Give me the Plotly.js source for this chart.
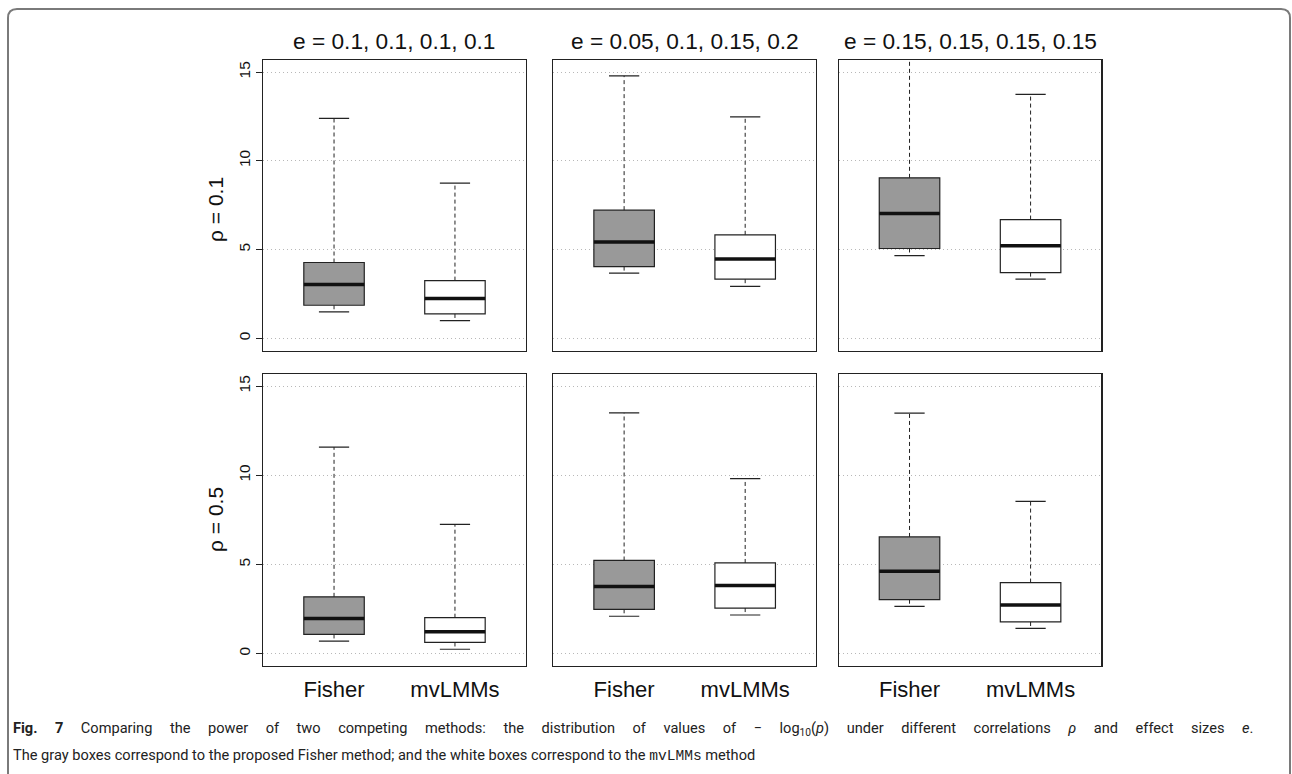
<!DOCTYPE html>
<html>
<head>
<meta charset="utf-8">
<script src="https://cdn.plot.ly/plotly-3.0.1.min.js"></script>
<style>html,body{margin:0;padding:0;background:#fff;}#chart{width:1292px;height:774px;}</style>
</head>
<body>
<div id="chart"></div>
<script>
// ---- data ----
const methods = ['Fisher', 'mvLMMs'];
const effectLabels = ['e = 0.1, 0.1, 0.1, 0.1', 'e = 0.05, 0.1, 0.15, 0.2', 'e = 0.15, 0.15, 0.15, 0.15'];
const rhoLabels = ['\u03c1 = 0.1', '\u03c1 = 0.5'];
const yTicks = [0, 5, 10, 15];
// panel order: row rho=0.1 (3 effect settings), then row rho=0.5
const fisherLower  = [1.49, 3.67, 4.66, 0.69, 2.09, 2.65];
const fisherQ1     = [1.86, 4.04, 5.06, 1.07, 2.48, 3.02];
const fisherMedian = [3.03, 5.43, 7.03, 1.97, 3.76, 4.62];
const fisherQ3     = [4.27, 7.22, 9.04, 3.18, 5.22, 6.54];
const fisherUpper  = [12.39, 14.79, 16.8, 11.58, 13.50, 13.48];
const mvLower  = [0.99, 2.93, 3.33, 0.24, 2.16, 1.41];
const mvQ1     = [1.37, 3.33, 3.70, 0.62, 2.55, 1.77];
const mvMedian = [2.24, 4.46, 5.21, 1.22, 3.81, 2.72];
const mvQ3     = [3.25, 5.83, 6.69, 2.01, 5.08, 3.98];
const mvUpper  = [8.74, 12.48, 13.74, 7.24, 9.81, 8.53];

// ---- layout geometry (pixels) ----
const W = 1292, H = 774;
const colPx = [[263.3, 525.7], [553.3, 816], [838.7, 1101.4]];
const rowPx = [[60, 350.7], [374, 666]];
const px2x = p => p / W;
const px2y = p => 1 - p / H;
const boxW = 0.5, capW = 0.25;
const fills = ['#999999', '#ffffff'];

const traces = [];
const layout = {
  width: W, height: H,
  margin: {l: 0, r: 0, t: 0, b: 0},
  paper_bgcolor: '#fff', plot_bgcolor: '#fff',
  showlegend: false,
  font: {family: 'Liberation Sans, Arial, sans-serif', color: '#111'},
  annotations: [], shapes: []
};

for (let p = 0; p < 6; p++) {
  const row = Math.floor(p / 3), col = p % 3;
  const ax = p === 0 ? '' : String(p + 1);
  const xa = 'x' + ax, ya = 'y' + ax;
  const stats = [
    {lo: fisherLower[p], q1: fisherQ1[p], med: fisherMedian[p], q3: fisherQ3[p], hi: fisherUpper[p]},
    {lo: mvLower[p], q1: mvQ1[p], med: mvMedian[p], q3: mvQ3[p], hi: mvUpper[p]}
  ];
  stats.forEach((s, m) => {
    const xc = m + 1;
    // dashed whiskers
    traces.push({type: 'scatter', mode: 'lines', xaxis: xa, yaxis: ya, hoverinfo: 'skip',
      x: [xc, xc, null, xc, xc], y: [s.q3, s.hi, null, s.q1, s.lo],
      line: {color: '#222', width: 1, dash: '4px,3px'}});
    // staples
    traces.push({type: 'scatter', mode: 'lines', xaxis: xa, yaxis: ya, hoverinfo: 'skip',
      x: [xc - capW / 2, xc + capW / 2, null, xc - capW / 2, xc + capW / 2],
      y: [s.hi, s.hi, null, s.lo, s.lo],
      line: {color: '#222', width: 1.2}});
    // box
    traces.push({type: 'box', xaxis: xa, yaxis: ya, x: [xc], name: methods[m],
      q1: [s.q1], median: [s.med], q3: [s.q3], lowerfence: [s.q1], upperfence: [s.q3],
      width: boxW, whiskerwidth: 0, fillcolor: fills[m],
      line: {color: '#222', width: 1.2}, hoverinfo: 'skip', boxpoints: false});
    // thick median
    traces.push({type: 'scatter', mode: 'lines', xaxis: xa, yaxis: ya, hoverinfo: 'skip',
      x: [xc - boxW / 2, xc + boxW / 2], y: [s.med, s.med],
      line: {color: '#111', width: 3.5}});
  });

  layout['xaxis' + ax] = {
    domain: [px2x(colPx[col][0]), px2x(colPx[col][1])],
    anchor: ya, range: [0.415, 2.585], fixedrange: true,
    tickvals: [1, 2], ticktext: methods,
    showticklabels: row === 1, ticks: '', showgrid: false, zeroline: false,
    showline: true, mirror: true, linecolor: '#222', linewidth: 1.2,
    tickfont: {size: 22, color: '#111'}, ticklabelstandoff: 3
  };
  layout['yaxis' + ax] = {
    domain: [px2y(rowPx[row][1]), px2y(rowPx[row][0])],
    anchor: xa, range: [-0.7, 15.68], fixedrange: true,
    tickvals: yTicks, showticklabels: col === 0,
    ticks: col === 0 ? 'outside' : '', ticklen: 6, tickcolor: '#222',
    tickangle: -90, tickfont: {size: 15.5, color: '#111'},
    showgrid: true, gridcolor: '#b8b8b8', griddash: '1px,3px', gridwidth: 1,
    zeroline: false, showline: true, mirror: true, linecolor: '#222', linewidth: 1.2
  };
}

// column titles
effectLabels.forEach((t, c) => {
  layout.annotations.push({text: t, xref: 'paper', yref: 'paper',
    x: px2x((colPx[c][0] + colPx[c][1]) / 2), y: px2y(41),
    xanchor: 'center', yanchor: 'middle', showarrow: false,
    font: {size: 22.7, color: '#111'}});
});
// row labels
rhoLabels.forEach((t, r) => {
  layout.annotations.push({text: t, xref: 'paper', yref: 'paper',
    x: px2x(215), y: px2y(r === 0 ? 210 : 520),
    xanchor: 'center', yanchor: 'middle', textangle: -90, showarrow: false,
    font: {size: 21, color: '#111'}});
});
// caption (first line justified to the full width, as in the source)
const capFont = {family: 'Roboto, Open Sans, sans-serif', size: 14.6, color: '#222'};
layout.annotations.push({
  text: '<span style="word-spacing:13.9px"><b>Fig. 7</b> Comparing the power of two competing methods: the distribution of values of \u2212 log<sub>10</sub>(<i>p</i>) under different correlations <i>\u03c1</i> and effect sizes <i>e</i>.</span>',
  xref: 'paper', yref: 'paper', x: px2x(11), y: px2y(728), xanchor: 'left', yanchor: 'middle',
  align: 'left', showarrow: false, font: capFont});
layout.annotations.push({
  text: 'The gray boxes correspond to the proposed Fisher method; and the white boxes correspond to the <span style="font-family:Liberation Mono, DejaVu Sans Mono, monospace">mvLMMs</span> method',
  xref: 'paper', yref: 'paper', x: px2x(11), y: px2y(755), xanchor: 'left', yanchor: 'middle',
  align: 'left', showarrow: false, font: capFont});

// figure frame (rounded gray border)
const fx0 = px2x(8), fx1 = px2x(1290), fyT = px2y(9), fyB = px2y(780);
const rx = px2x(9), ry = 9 / H;
layout.shapes.push({type: 'path', xref: 'paper', yref: 'paper',
  path: `M ${fx0},${fyB} L ${fx0},${fyT - ry} Q ${fx0},${fyT} ${fx0 + rx},${fyT} L ${fx1 - rx},${fyT} Q ${fx1},${fyT} ${fx1},${fyT - ry} L ${fx1},${fyB}`,
  line: {color: '#7a7a7a', width: 2}});

Plotly.newPlot('chart', traces, layout, {displayModeBar: false, staticPlot: true});
</script>
</body>
</html>
